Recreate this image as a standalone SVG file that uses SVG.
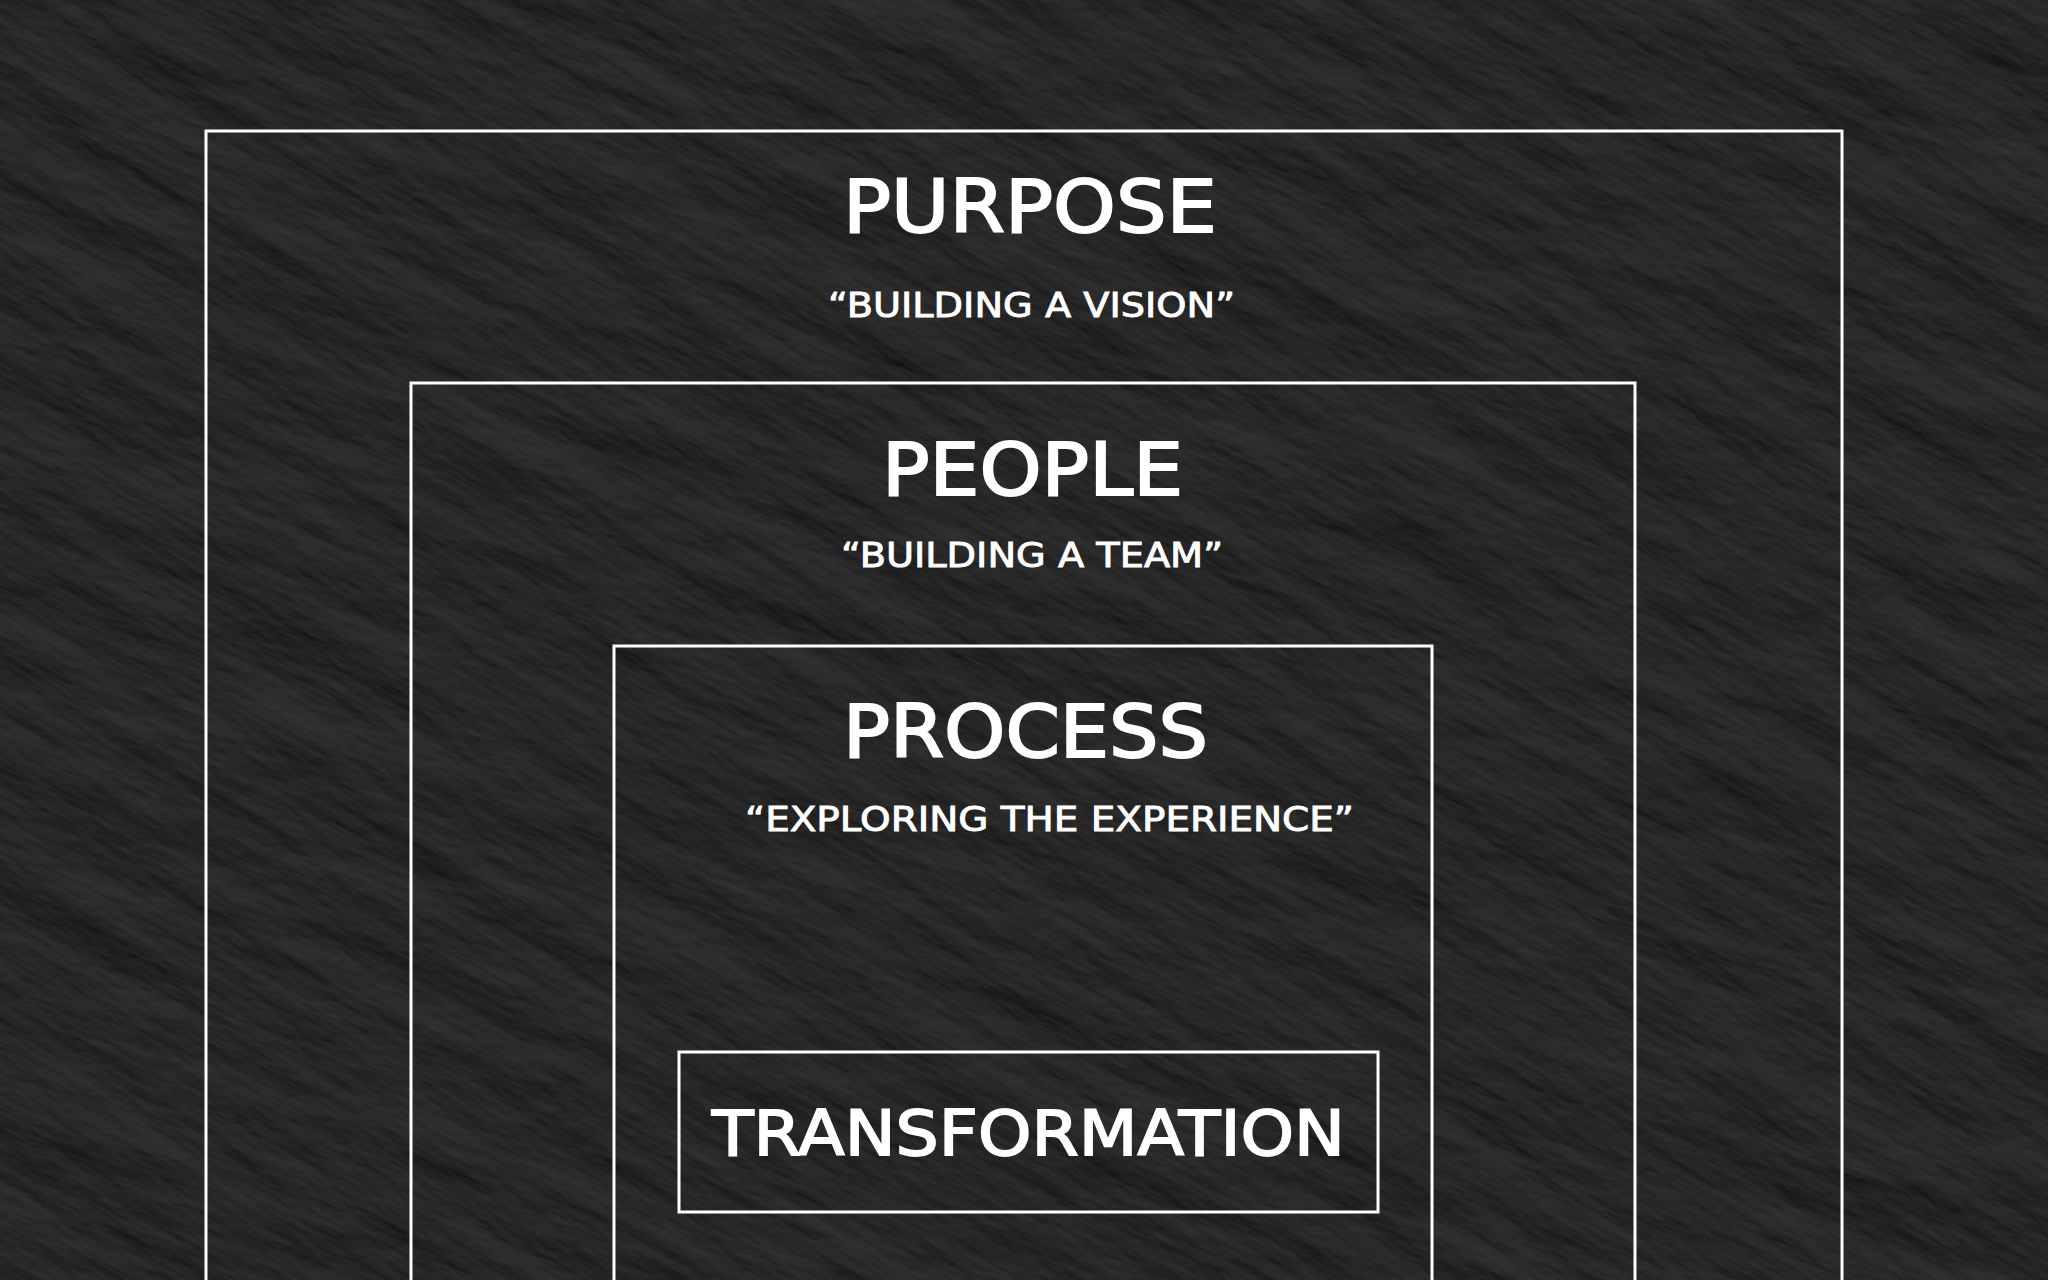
<svg xmlns="http://www.w3.org/2000/svg" width="2048" height="1280" viewBox="0 0 2048 1280">
  <defs>
    <filter id="stone" x="-800" y="-900" width="3650" height="3100" filterUnits="userSpaceOnUse" color-interpolation-filters="sRGB">
      <feTurbulence type="fractalNoise" baseFrequency="0.0045 0.014" numOctaves="6" seed="11" result="n"/>
      <feDiffuseLighting in="n" surfaceScale="7" diffuseConstant="1" lighting-color="#ffffff" result="l">
        <feDistantLight azimuth="235" elevation="48"/>
      </feDiffuseLighting>
      <feColorMatrix type="matrix" values="0.24 0 0 0 -0.025  0.24 0 0 0 -0.025  0.24 0 0 0 -0.025  0 0 0 0 1"/>
    </filter>
    <style>
      .frame { fill: none; stroke: #ffffff; stroke-width: 3; }
      .head { font-family: "DejaVu Sans", "Liberation Sans", sans-serif; font-size: 73px; fill: #ffffff; stroke: #ffffff; stroke-width: 2; }
      .sub { font-family: "DejaVu Sans", "Liberation Sans", sans-serif; font-size: 34px; fill: #ffffff; stroke: #ffffff; stroke-width: 0.9; }
      .core { font-family: "DejaVu Sans", "Liberation Sans", sans-serif; font-size: 63px; fill: #ffffff; stroke: #ffffff; stroke-width: 1.8; }
    </style>
  </defs>

  <rect x="0" y="0" width="2048" height="1280" fill="#262626"/>
  <g transform="rotate(30 1024 640)">
    <rect x="-800" y="-900" width="3650" height="3100" fill="#262626" filter="url(#stone)"/>
  </g>

  <g id="purpose">
    <rect class="frame" x="206" y="131" width="1636" height="1200"/>
    <text class="head" x="843" y="232" textLength="374" lengthAdjust="spacingAndGlyphs">PURPOSE</text>
    <text class="sub" x="828" y="317" textLength="407" lengthAdjust="spacingAndGlyphs">“BUILDING A VISION”</text>
  </g>

  <g id="people">
    <rect class="frame" x="411" y="383" width="1224" height="950"/>
    <text class="head" x="882" y="495" textLength="301" lengthAdjust="spacingAndGlyphs">PEOPLE</text>
    <text class="sub" x="841" y="567" textLength="382" lengthAdjust="spacingAndGlyphs">“BUILDING A TEAM”</text>
  </g>

  <g id="process">
    <rect class="frame" x="614" y="646" width="818" height="700"/>
    <text class="head" x="843" y="757" textLength="365" lengthAdjust="spacingAndGlyphs">PROCESS</text>
    <text class="sub" x="745" y="831" textLength="609" lengthAdjust="spacingAndGlyphs">“EXPLORING THE EXPERIENCE”</text>
  </g>

  <g id="transformation">
    <rect class="frame" x="679" y="1052" width="699" height="160"/>
    <text class="core" x="712" y="1155" textLength="633" lengthAdjust="spacingAndGlyphs">TRANSFORMATION</text>
  </g>
</svg>
